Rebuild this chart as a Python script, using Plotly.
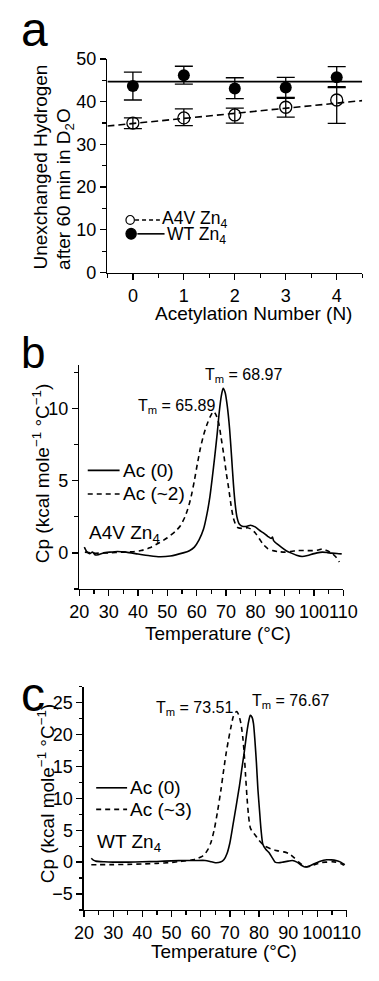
import plotly.graph_objects as go

W, H = 379, 981
FONT = "Liberation Sans, Arial, sans-serif"

# ---------------- Panel a data ----------------
acetyl_n = [0, 1, 2, 3, 4]
wt_h = [43.7, 46.2, 43.1, 43.3, 45.7]
wt_err_plus = [3.2, 2.1, 2.5, 2.4, 2.5]
wt_err_minus = [3.3, 2.1, 2.4, 2.3, 2.4]
a4v_h = [35.0, 36.2, 36.9, 38.7, 40.4]
a4v_err_plus = [1.2, 2.1, 1.6, 2.1, 3.1]
a4v_err_minus = [1.3, 1.8, 1.9, 2.3, 5.5]
fit_x = [-0.5, 4.5]
wt_fit = [44.7, 44.7]
a4v_fit = [34.3, 40.25]

# ---------------- Panel b data (A4V Zn4) ----------------
b_ac0_T = [21.7, 22.5, 23.5, 24.5, 25.5, 26.5, 28, 30.4, 33, 36, 40, 44, 47.4, 51, 55.4, 57.5,
           59.2, 60.8, 62.3, 63.5, 64.5, 65.3, 66.1, 67.0, 67.7, 68.4, 69.0, 69.7, 70.4, 71.2,
           71.9, 72.5, 73.1, 73.7, 74.5, 75.5, 77.2, 78.3, 79.9, 81.5, 82.6, 84.2, 85.4, 85.8,
           86.2, 87.5, 88.9, 90.5, 92.1, 94, 95.9, 97.8, 99.6, 101, 102.8, 104.5, 106, 107.8, 109.4]
b_ac0_Cp = [0.4, 0.1, -0.05, 0.05, -0.15, -0.12, -0.02, 0.05, 0.1, 0.05, -0.08, -0.2, -0.27, -0.22, 0.0, 0.15,
            0.4, 0.9, 1.63, 2.7, 3.9, 5.2, 6.6, 8.3, 9.8, 10.9, 11.4, 11.1, 10.2, 8.6,
            6.6, 4.8, 3.4, 2.5, 2.0, 1.85, 1.85, 1.92, 1.8, 1.55, 1.4, 1.15, 1.0, 1.1,
            0.85, 0.6, 0.38, 0.15, 0.0, -0.17, -0.25, -0.18, -0.07, 0.0, 0.05, 0.02, -0.02, -0.04, -0.07]
b_ac2_T = [21.9, 25, 30, 35, 38, 41, 44, 47.4, 50, 52.8, 54.5, 56, 57.2, 58.1, 59.2, 60.2, 61.3,
           62.4, 63.5, 64.5, 65.7, 66.5, 67.5, 68.3, 69.3, 70.1, 70.9, 71.7, 72.5, 73.3, 74.1,
           75.5, 77.3, 78.5, 79.9, 81.3, 82.6, 84.2, 85.8, 88, 90, 92, 94.3, 97, 99.6, 101.5,
           102.8, 104.5, 106, 107.5, 108.6]
b_ac2_Cp = [0.05, -0.02, 0.0, 0.05, 0.08, 0.16, 0.35, 0.72, 1.05, 1.5, 1.9, 2.5, 3.2, 3.9, 5.0, 6.15, 7.3,
            8.2, 8.9, 9.4, 9.8, 9.6, 9.0, 8.0, 6.7, 5.5, 4.46, 3.3, 2.4, 1.95, 1.74,
            1.7, 1.74, 1.65, 1.4, 1.0, 0.6, 0.3, 0.16, 0.08, 0.05, 0.1, 0.16, 0.16, 0.16, 0.2,
            0.27, 0.15, -0.02, -0.3, -0.63]

# ---------------- Panel c data (WT Zn4) ----------------
c_ac0_T = [22.5, 23.2, 24, 27, 30, 35, 40, 45, 50, 55, 58, 61.5, 63.6, 65, 66.8, 68, 69, 70, 71.1,
           72.2, 73.3, 74.1, 74.9, 75.6, 76.3, 77.0, 77.6, 78.1, 78.6, 79.1, 79.6, 80.2, 80.7,
           81.3, 82.3, 83.4, 84.5, 85.5, 86.8, 88.2, 90, 91.4, 93, 94.5, 95.7, 97.3, 98.9, 101,
           103.2, 104.8, 106.4, 108, 109.4]
c_ac0_Cp = [0.6, 0.3, 0.15, 0.05, 0.0, 0.0, 0.05, 0.1, 0.2, 0.25, 0.25, 0.26, 0.05, -0.1, 0.0, 0.4, 1.3, 3.0, 5.9,
            8.9, 12.0, 14.6, 17.1, 19.6, 21.7, 23.0, 22.7, 21.7, 19.0, 15.6, 11.5, 7.9, 5.0,
            2.8, 2.0, 1.5, 0.7, 0.0, -0.1, 0.0, 0.15, 0.25, 0.0, -0.5, -0.77, -0.6, -0.26, 0.15,
            0.36, 0.35, 0.25, 0.0, -0.41]
c_ac3_T = [22.5, 25, 30, 35, 40, 45, 50, 53, 55, 57.2, 59, 60.5, 61.5, 62.5, 63.6, 64.7, 65.8, 66.9,
           67.9, 68.7, 69.5, 70.3, 71.1, 71.8, 72.4, 73.1, 73.8, 74.4, 74.9, 75.4, 75.9, 76.4,
           77.0, 77.8, 78.6, 80, 81.8, 84, 86.1, 88.5, 90.4, 92, 93.6, 95, 96.3, 98, 100, 101.5,
           103.2, 105, 106.4, 108, 109.1]
c_ac3_Cp = [-0.41, -0.4, -0.4, -0.35, -0.3, -0.2, -0.05, 0.1, 0.2, 0.36, 0.6, 0.9, 1.3, 2.0, 3.2, 5.2, 8.0, 11.2,
            14.5, 17.0, 19.1, 21.0, 22.7, 23.4, 23.6, 23.0, 21.7, 19.7, 17.1, 13.5, 10.0, 7.3,
            5.4, 4.7, 4.3, 3.4, 2.55, 2.1, 1.8, 1.6, 1.3, 0.7, 0.0, -0.5, -0.77, -0.6, -0.26, -0.05,
            0.0, 0.05, 0.0, -0.2, -0.5]

# ---------------- helpers (pixel -> paper) ----------------
def X(px):
    return px / W

def Y(py):
    return 1 - py / H

fig = go.Figure()

# Panel a traces
fig.add_trace(go.Scatter(x=fit_x, y=wt_fit, mode="lines", line=dict(color="black", width=1.8),
                         xaxis="x", yaxis="y", showlegend=False, hoverinfo="skip"))
fig.add_trace(go.Scatter(x=fit_x, y=a4v_fit, mode="lines", line=dict(color="black", width=1.6, dash="7px,4px"),
                         xaxis="x", yaxis="y", showlegend=False, hoverinfo="skip"))
fig.add_trace(go.Scatter(x=acetyl_n, y=wt_h, mode="markers",
                         marker=dict(symbol="circle", size=12, color="black"),
                         error_y=dict(type="data", symmetric=False, array=wt_err_plus, arrayminus=wt_err_minus,
                                      color="black", thickness=1.3, width=9),
                         xaxis="x", yaxis="y", name="WT Zn4", showlegend=False))
fig.add_trace(go.Scatter(x=acetyl_n, y=a4v_h, mode="markers",
                         marker=dict(symbol="circle-open", size=12, color="black", line=dict(width=1.3)),
                         error_y=dict(type="data", symmetric=False, array=a4v_err_plus, arrayminus=a4v_err_minus,
                                      color="black", thickness=1.3, width=9),
                         xaxis="x", yaxis="y", name="A4V Zn4", showlegend=False))

# Panel b traces
fig.add_trace(go.Scatter(x=b_ac0_T, y=b_ac0_Cp, mode="lines", line=dict(color="black", width=1.6, shape="spline", smoothing=0.6),
                         xaxis="x2", yaxis="y2", name="Ac (0)", showlegend=False))
fig.add_trace(go.Scatter(x=b_ac2_T, y=b_ac2_Cp, mode="lines",
                         line=dict(color="black", width=1.6, dash="5px,4px", shape="spline", smoothing=0.6),
                         xaxis="x2", yaxis="y2", name="Ac (~2)", showlegend=False))

# Panel c traces
fig.add_trace(go.Scatter(x=c_ac0_T, y=c_ac0_Cp, mode="lines", line=dict(color="black", width=1.6, shape="spline", smoothing=0.6),
                         xaxis="x3", yaxis="y3", name="Ac (0)", showlegend=False))
fig.add_trace(go.Scatter(x=c_ac3_T, y=c_ac3_Cp, mode="lines",
                         line=dict(color="black", width=1.6, dash="5px,4px", shape="spline", smoothing=0.6),
                         xaxis="x3", yaxis="y3", name="Ac (~3)", showlegend=False))

TICKFONT = dict(family=FONT, size=18, color="black")

def axis_common(**kw):
    d = dict(showline=True, linecolor="black", linewidth=1.5, ticks="outside", ticklen=6,
             tickwidth=1.3, tickcolor="black", showgrid=False, zeroline=False, mirror=False,
             tickfont=TICKFONT, tickangle=0, fixedrange=True, ticklabelstandoff=0)
    d.update(kw)
    return d

minor_style = dict(ticks="outside", ticklen=3.5, tickwidth=1.2, tickcolor="black", showgrid=False)

fig.update_layout(
    width=W, height=H,
    margin=dict(l=0, r=0, t=0, b=0),
    paper_bgcolor="white", plot_bgcolor="white",
    showlegend=False,
    font=dict(family=FONT, color="black"),
    xaxis=axis_common(domain=[X(104), X(376)], range=[-0.5, 4.5], tick0=0, dtick=1,
                      minor=dict(dtick=0.5, tick0=0, **minor_style), anchor="y"),
    yaxis=axis_common(domain=[Y(268), Y(50)], range=[0, 50], tick0=0, dtick=10,
                      minor=dict(dtick=5, tick0=0, **minor_style), anchor="x"),
    xaxis2=axis_common(domain=[X(74), X(356)], range=[20, 110], tick0=20, dtick=10,
                       minor=dict(dtick=5, tick0=20, **minor_style), anchor="y2"),
    yaxis2=axis_common(domain=[Y(591), Y(362.7)], range=[-2.5, 13], tickvals=[0, 5, 10],
                       minor=dict(dtick=2.5, tick0=0, **minor_style), anchor="x2"),
    xaxis3=axis_common(domain=[X(79), X(359.3)], range=[20, 110], tick0=20, dtick=10,
                       minor=dict(dtick=5, tick0=20, **minor_style), anchor="y3"),
    yaxis3=axis_common(domain=[Y(918.7), Y(690.7)], range=[-7.5, 27.5], tick0=0, dtick=5,
                       minor=dict(dtick=2.5, tick0=0, **minor_style), anchor="x3"),
)

ann = []

def text(t, px, py, size, xanchor="left", yanchor="middle", angle=0):
    ann.append(dict(text=t, x=X(px), y=Y(py), xref="paper", yref="paper", showarrow=False,
                    xanchor=xanchor, yanchor=yanchor, textangle=angle,
                    font=dict(family=FONT, size=size, color="black")))

TITLE = 19
LEG = 17.5
# panel letters
text("a", 10, 20, 48, "left", "middle")
text("b", 10, 350, 44, "left", "middle")
text("c", 10, 699, 48, "left", "middle")

# panel a titles
text("Unexchanged Hydrogen", 32.5, 267, TITLE, "center", "bottom", -90)
text("after 60 min in D<sub>2</sub>O", 58, 267, TITLE, "center", "bottom", -90)
text("Acetylation Number (N)", 260, 310, TITLE, "center", "middle")

# panel a legend
text("A4V Zn<sub>4</sub>", 160, 214, LEG, "left", "middle")
text("WT Zn<sub>4</sub>", 165, 230, LEG, "left", "middle")

# panel b titles
text("Cp (kcal mole<sup>−1</sup> °C<sup>−1</sup>)", 34, 473, TITLE, "center", "middle", -90)
text("Temperature (°C)", 222, 636, TITLE, "center", "middle")
text("T<sub>m</sub> = 68.97", 206, 373, 16, "left", "middle")
text("T<sub>m</sub> = 65.89", 134, 405, 16, "left", "middle")
text("Ac (0)", 118, 470, 19, "left", "middle")
text("Ac (~2)", 118, 494, 19, "left", "middle")
text("A4V Zn<sub>4</sub>", 82, 535, 19, "left", "middle")

# panel c titles
text("Cp (kcal mole<sup>−1</sup> °C<sup>−1</sup>)", 38, 800, TITLE, "center", "middle", -90)
text("Temperature (°C)", 229, 961, TITLE, "center", "middle")
text("T<sub>m</sub> = 73.51", 154, 713, 16, "left", "middle")
text("T<sub>m</sub> = 76.67", 256, 706, 16, "left", "middle")
text("Ac (0)", 126, 794, 19, "left", "middle")
text("Ac (~3)", 126, 816, 19, "left", "middle")
text("WT Zn<sub>4</sub>", 91, 850, 19, "left", "middle")

shapes = []

def hline(px0, px1, py, dash="solid"):
    shapes.append(dict(type="line", xref="paper", yref="paper", x0=X(px0), x1=X(px1), y0=Y(py), y1=Y(py),
                       line=dict(color="black", width=1.6, dash=dash)))

def circle(cx, cy, r, filled):
    shapes.append(dict(type="circle", xref="paper", yref="paper", x0=X(cx - r), x1=X(cx + r),
                       y0=Y(cy + r), y1=Y(cy - r),
                       line=dict(color="black", width=1.2),
                       fillcolor="black" if filled else "rgba(0,0,0,0)"))

# legend glyphs panel a
circle(128.3, 214.3, 4.5, False)
hline(133.5, 160, 214.3, "4px,3px")
circle(129.3, 228.5, 5.5, True)
hline(136, 165, 228.5)
# legend glyphs panel b
hline(83, 117, 470)
hline(83, 117, 494, "5px,4px")
# legend glyphs panel c
hline(92, 125, 794)
hline(92, 125, 816, "5px,4px")

fig.update_layout(annotations=ann, shapes=shapes)

fig.write_html("out.html",
               config={"displayModeBar": False, "staticPlot": True},
               post_script="document.body.style.margin='0';document.body.style.overflow='hidden';")
